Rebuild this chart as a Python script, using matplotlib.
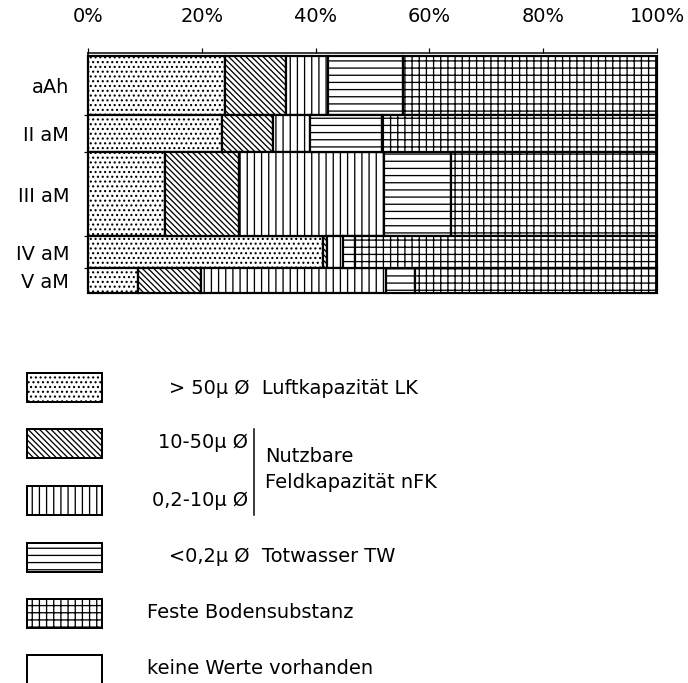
import numpy as np
import matplotlib
matplotlib.use("Agg")
import matplotlib.pyplot as plt
from matplotlib.patches import Rectangle

# horizons and their thickness (cm)
horizons = ["aAh", "II aM", "III aM", "IV aM", "V aM"]
thickness = [25, 15.5, 35.5, 13.5, 10.5]

# pore size fractions in % of volume
lk = [24.1, 23.5, 13.5, 41.3, 8.8]          # > 50µ  Luftkapazität
nfk_grob = [10.7, 9.0, 13.0, 0.7, 11.1]     # 10-50µ
nfk_fein = [7.4, 6.5, 25.5, 2.8, 32.5]      # 0,2-10µ
tw = [13.2, 12.7, 11.8, 2.1, 5.1]           # <0,2µ Totwasser
feste = [44.6, 48.3, 36.2, 53.1, 42.5]      # Feste Bodensubstanz

xticks = [0, 20, 40, 60, 80, 100]

# lower dpi makes the hatch patterns denser (hatch unit = 1 inch)
DPI = 86
def pt(px):
    return px * 72 / DPI

plt.rcParams["font.family"] = "DejaVu Sans"
plt.rcParams["hatch.linewidth"] = pt(1.3)
plt.rcParams["hatch.color"] = "black"

W, H = 688, 683
fig = plt.figure(figsize=(W / DPI, H / DPI), dpi=DPI)
ax = fig.add_axes([88 / W, 1 - 293 / H, (657 - 88) / W, (293 - 53) / H])

series = [lk, nfk_grob, nfk_fein, tw, feste]
hatches = ["...", "\\" * 5, "||", "--", "++"]

thick = np.array(thickness)
tops = np.concatenate([[0], np.cumsum(thick)[:-1]])
centers = tops + thick / 2
left = np.zeros(len(horizons))
for vals, h in zip(series, hatches):
    ax.barh(centers, vals, height=thick, left=left, color="white",
            edgecolor="black", linewidth=pt(2.2), hatch=h, clip_on=False)
    left += np.array(vals)

fs = pt(19.4)

ax.set_xlim(0, 100)
ax.set_ylim(thick.sum(), -1.3)
ax.xaxis.tick_top()
ax.set_xticks(xticks)
ax.set_xticklabels([f"{v}%" for v in xticks], fontsize=fs)
ax.tick_params(axis="x", direction="out", length=pt(5), width=pt(1.2), pad=pt(22))

ax.set_yticks(np.cumsum(thick)[:-1])
ax.set_yticklabels([])
ax.set_yticks(centers, minor=True)
ax.set_yticklabels(horizons, minor=True, fontsize=fs)
ax.tick_params(axis="y", which="major", direction="out", length=pt(4), width=pt(1.2))
ax.tick_params(axis="y", which="minor", length=0, pad=pt(19))
for s in ["right", "bottom"]:
    ax.spines[s].set_visible(False)
ax.spines["top"].set_linewidth(pt(1.5))
ax.spines["left"].set_linewidth(pt(1.5))

# legend drawn in pixel coordinates of the figure
lg = fig.add_axes([0, 0, 1, 1])
lg.set_xlim(0, W)
lg.set_ylim(H, 0)
lg.axis("off")

box_tops = [373, 429, 486, 543, 599, 655]
box_hatches = hatches + [""]
for y, h in zip(box_tops, box_hatches):
    lg.add_patch(Rectangle((27, y), 75, 29, facecolor="white", edgecolor="black",
                           linewidth=pt(2), hatch=h))

lg.text(169, 388, "> 50µ Ø  Luftkapazität LK", fontsize=fs, va="center", ha="left")
lg.text(248, 443, "10-50µ Ø", fontsize=fs, va="center", ha="right")
lg.text(248, 500, "0,2-10µ Ø", fontsize=fs, va="center", ha="right")
lg.plot([254, 254], [429, 515], color="black", linewidth=pt(1.5))
lg.text(265, 457, "Nutzbare", fontsize=fs, va="center", ha="left")
lg.text(265, 482, "Feldkapazität nFK", fontsize=fs, va="center", ha="left")
lg.text(169, 557, "<0,2µ Ø  Totwasser TW", fontsize=fs, va="center", ha="left")
lg.text(147, 613, "Feste Bodensubstanz", fontsize=fs, va="center", ha="left")
lg.text(147, 669, "keine Werte vorhanden", fontsize=fs, va="center", ha="left")

fig.savefig("out.png", dpi=DPI)
